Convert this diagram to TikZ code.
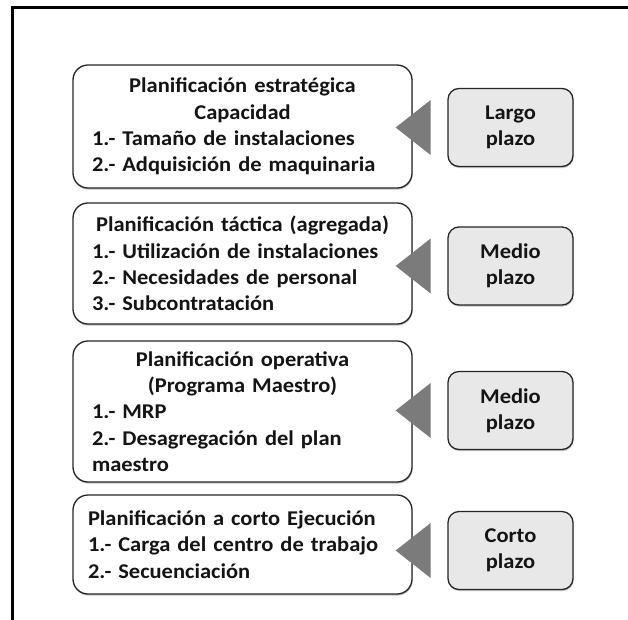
\documentclass[tikz,border=0pt]{standalone}
\usepackage{fontspec}
\setmainfont{Carlito}[FakeStretch=1.07, WordSpace=0.8]
\usetikzlibrary{shadows,calc}
\definecolor{edge}{HTML}{262626}
\definecolor{termfill}{HTML}{E8E8E8}
\definecolor{pointgray}{HTML}{7B7B7B}
\definecolor{ink}{HTML}{141414}
% a line set flush left across the whole text width of a node
\newcommand\flushline[1]{\makebox[\hsize][l]{#1}}
\begin{document}
\begin{tikzpicture}[x=1pt,y=-1pt,
  txt/.style={font=\fontsize{21}{26.3}\selectfont\bfseries, text=ink},
  planbox/.style={txt, draw=edge, line width=1.3pt, rounded corners=15pt, fill=white,
    drop shadow={shadow xshift=0.6pt, shadow yshift=-1.6pt, fill=black!50},
    minimum width=339pt, text width=301pt, align=center, inner sep=0pt},
  termbox/.style={txt, draw=edge, line width=1.3pt, rounded corners=11pt, fill=termfill,
    drop shadow={shadow xshift=0.6pt, shadow yshift=-1.6pt, fill=black!45},
    minimum width=125pt, minimum height=78pt, align=center, inner sep=0pt},
  pointer/.style={fill=pointgray}
]
\useasboundingbox (0,0) rectangle (628,619);
\fill[white] (0,0) rectangle (628,619);

% open frame: top and left sides only
\draw[line width=2.6pt, line cap=rect] (12.5,619) -- (12.5,7.5) -- (628,7.5);

% planning levels
\node[planbox, minimum height=123pt] (b1) at (242.5,126.5)
  {Planificación estratégica\\Capacidad\\
   \flushline{1.- Tamaño de instalaciones}\\\flushline{2.- Adquisición de maquinaria}};
\node[planbox, minimum height=121pt] (b2) at (242.5,263.5)
  {Planificación táctica (agregada)\\
   \flushline{1.- Utilización de instalaciones}\\\flushline{2.- Necesidades de personal}\\
   \flushline{3.- Subcontratación}};
\node[planbox, minimum height=141pt] (b3) at (242.5,411.5)
  {Planificación operativa\\(Programa Maestro)\\
   \flushline{1.- MRP}\\\flushline{2.- Desagregación del plan}\\\flushline{maestro}};
\node[planbox, minimum height=99pt, text width=309pt] (b4) at (242.5,544.5)
  {\flushline{Planificación a corto Ejecución}\\\flushline{1.- Carga del centro de trabajo}\\
   \flushline{2.- Secuenciación}};

% time horizons
\node[termbox] (s1) at (510.5,127.5) {Largo\\plazo};
\node[termbox] (s2) at (510.5,266) {Medio\\plazo};
\node[termbox] (s3) at (510.5,410.5) {Medio\\plazo};
\node[termbox] (s4) at (510.5,550.5) {Corto\\plazo};

% pointers from each horizon to its level
\foreach \b/\s in {b1/s1,b2/s2,b3/s3,b4/s4}{
  \fill[pointer] ($(\b.east |- \s.west)+(-17,0)$) -- ++(35,-27.5) -- ++(0,55) -- cycle;
}
\end{tikzpicture}
\end{document}
